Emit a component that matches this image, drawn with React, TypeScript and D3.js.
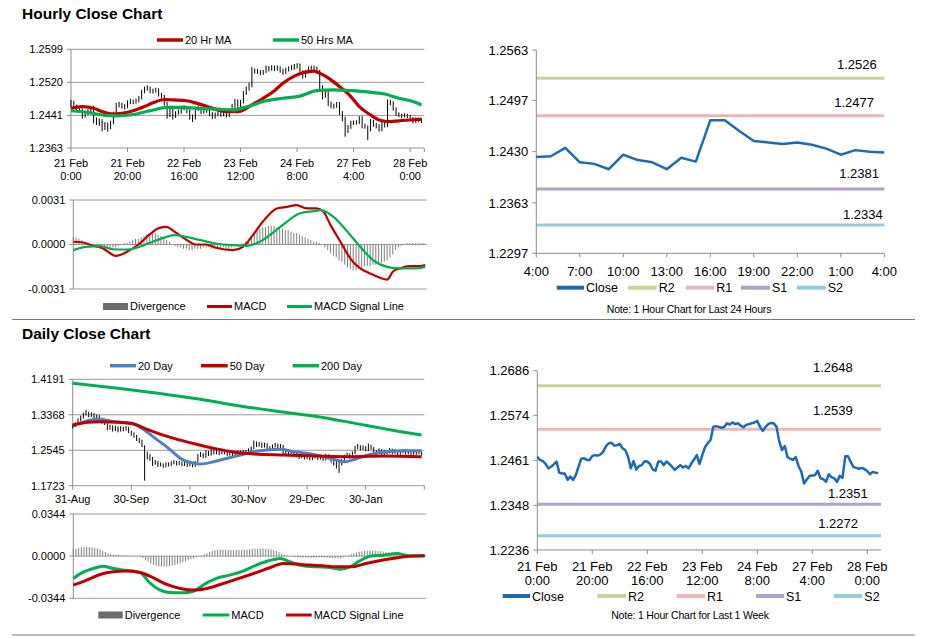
import React from "react";
import * as d3 from "d3";

const FONT = '"Liberation Sans", Arial, Helvetica, sans-serif';
const AXIS = "#8c8c8c";
const GRID = "#9a9a9a";
const RED = "#C00000";
const GREEN = "#00B050";
const BLUE_MA = "#4F81BD";
const BLUE_CLOSE = "#1F68B4";
const LEVEL_COLORS = ["#C4D79B", "#E6B8B7", "#B1A0C7", "#92CDDC"];
const BAR_GRAY = "#7f7f7f";

// ---------------- Hourly data (21 Feb 0:00 -> 28 Feb 4:00), one value per hour ----------------
const hourlyClose = [
  1.2470, 1.2462, 1.2459, 1.2452, 1.2441, 1.2445, 1.2451, 1.2458, 1.2430, 1.2428,
  1.2428, 1.2412, 1.2420, 1.2412, 1.2424, 1.2445, 1.2465, 1.2466, 1.2462, 1.2462,
  1.2472, 1.2474, 1.2473, 1.2476, 1.2483, 1.2497, 1.2504, 1.2505, 1.2498, 1.2499,
  1.2502, 1.2491, 1.2487, 1.2470, 1.2441, 1.2459, 1.2438, 1.2447, 1.2449, 1.2459,
  1.2458, 1.2452, 1.2438, 1.2435, 1.2458, 1.2458, 1.2449, 1.2458, 1.2452, 1.2445,
  1.2437, 1.2443, 1.2449, 1.2443, 1.2447, 1.2441, 1.2453, 1.2463, 1.2474, 1.2452,
  1.2474, 1.2494, 1.2504, 1.2512, 1.2545, 1.2547, 1.2545, 1.2543, 1.2545, 1.2554,
  1.2551, 1.2556, 1.2552, 1.2554, 1.2548, 1.2544, 1.2550, 1.2552, 1.2554, 1.2556,
  1.2560, 1.2545, 1.2535, 1.2545, 1.2552, 1.2555, 1.2554, 1.2545, 1.2508, 1.2487,
  1.2497, 1.2469, 1.2465, 1.2462, 1.2469, 1.2447, 1.2433, 1.2403, 1.2413, 1.2422,
  1.2423, 1.2424, 1.2435, 1.2416, 1.2414, 1.2407, 1.2426, 1.2419, 1.2416, 1.2407,
  1.2422, 1.2417, 1.2471, 1.2471, 1.2457, 1.2444, 1.2442, 1.2440, 1.2442, 1.2439,
  1.2434, 1.2426, 1.2432, 1.2430, 1.2429,
];
// high above close / low below close, in pips
const hourlyHighPips = [
  8, 14, 8, 12, 16, 6, 5, 6, 34, 8,
  6, 20, 5, 12, 4, 5, 6, 7, 9, 6,
  5, 7, 6, 5, 4, 5, 6, 8, 12, 6,
  5, 15, 8, 20, 33, 5, 26, 4, 6, 5,
  7, 10, 18, 8, 4, 6, 13, 5, 10, 11,
  12, 5, 6, 10, 5, 9, 4, 5, 6, 27,
  4, 5, 6, 7, 12, 6, 7, 6, 5, 6,
  8, 5, 8, 6, 10, 9, 5, 6, 7, 8,
  6, 20, 14, 5, 6, 5, 6, 13, 42, 26,
  5, 33, 9, 7, 4, 26, 18, 35, 5, 6,
  6, 5, 4, 23, 7, 10, 6, 11, 7, 13,
  5, 9, 8, 7, 18, 16, 6, 5, 4, 6,
  8, 11, 4, 5, 5,
];
const hourlyLowPips = [
  10, 5, 6, 5, 8, 9, 10, 12, 8, 10,
  12, 9, 14, 10, 16, 25, 24, 6, 5, 7,
  14, 6, 5, 7, 11, 18, 10, 5, 4, 6,
  7, 5, 6, 6, 8, 22, 7, 12, 6, 14,
  5, 6, 7, 10, 27, 6, 5, 13, 5, 6,
  5, 10, 10, 5, 8, 5, 16, 14, 15, 6,
  26, 24, 14, 12, 37, 6, 5, 6, 7, 12,
  5, 8, 5, 6, 5, 6, 10, 6, 5, 6,
  7, 5, 6, 14, 11, 7, 5, 5, 6, 8,
  14, 6, 7, 5, 10, 5, 6, 13, 14, 13,
  5, 5, 15, 6, 5, 25, 23, 5, 6, 5,
  19, 5, 58, 6, 5, 4, 5, 6, 6, 5,
  6, 4, 9, 5, 6,
];
const ma20Hours = [0, 4, 8, 11, 15, 18, 22, 26, 29, 33, 36, 41, 44, 48, 52, 55, 59, 61, 64, 68, 72, 75, 79, 82, 86, 88, 92, 95, 99, 102, 106, 109, 113, 116, 120, 124];
const ma20Values = [1.2458, 1.2462, 1.2458, 1.2450, 1.2444, 1.2446, 1.2452, 1.2462, 1.2471, 1.2479, 1.2478, 1.2476, 1.2471, 1.2463, 1.2454, 1.2450, 1.2450, 1.2454, 1.2466, 1.2482, 1.2500, 1.2518, 1.2535, 1.2543, 1.2547, 1.2542, 1.2526, 1.2510, 1.2486, 1.2462, 1.2442, 1.2430, 1.2426, 1.2428, 1.2430, 1.2432];
const ma50Hours = [0, 6, 12, 16, 22, 28, 34, 40, 46, 52, 57, 63, 69, 75, 81, 87, 93, 99, 105, 111, 116, 121, 124];
const ma50Values = [1.2452, 1.2448, 1.2441, 1.2440, 1.2443, 1.2452, 1.2460, 1.2460, 1.2457, 1.2456, 1.2454, 1.2463, 1.2476, 1.2482, 1.2487, 1.2500, 1.2502, 1.2500, 1.2497, 1.2492, 1.2482, 1.2474, 1.2466];
const hourlyTickIdx = [0, 20, 40, 60, 80, 100, 120];
const hourlyTickDays = ["21 Feb", "21 Feb", "22 Feb", "23 Feb", "24 Feb", "27 Feb", "28 Feb"];
const hourlyTickTimes = ["0:00", "20:00", "16:00", "12:00", "8:00", "4:00", "0:00"];
const hourlyPriceTicks = [1.2363, 1.2441, 1.2520, 1.2599];

const hMacdHours = [0, 3.5, 7, 10.5, 15, 19, 23.5, 27, 30.5, 33, 35.5, 39, 43.5, 47, 50.5, 56.5, 60, 63.5, 67, 72, 75.5, 79, 82.5, 86, 88.5, 91, 94.5, 98, 101.5, 105, 108.5, 111, 113, 115.5, 119, 122.5, 124.5];
const hMacdValues = [0.00019, 0.00014, -0.00009, -0.00028, -0.00079, -0.00051, 0.00007, 0.00070, 0.00116, 0.00123, 0.00093, 0.00046, 0, 0, -0.00023, -0.00039, -0.00016, 0.00065, 0.00158, 0.00251, 0.00262, 0.00274, 0.00251, 0.00251, 0.00228, 0.00135, 0.00019, -0.00098, -0.00167, -0.00202, -0.00232, -0.00244, -0.00190, -0.00167, -0.00151, -0.00151, -0.00144];
const hSignalHours = [0, 4.5, 9.5, 14, 19, 23.5, 28.5, 33, 35.5, 40, 45, 50.5, 56.5, 61.5, 66, 71, 75.5, 80, 85, 87.5, 92, 96.5, 101.5, 106, 111, 115.5, 120.5, 124.5];
const hSignalValues = [-0.00039, -0.00016, -0.00012, -0.00033, -0.00035, -0.00016, 0.00023, 0.00053, 0.00065, 0.00053, 0.00030, 0.00007, -0.00005, -0.00009, 0.00019, 0.00088, 0.00158, 0.00216, 0.00232, 0.00239, 0.00193, 0.00100, -0.00016, -0.00109, -0.00156, -0.00167, -0.00167, -0.00156];
const hDivergence = [
  0.0005, 0.0005, 0.0004, 0.0003, 0.0002, 0.0001, 0.0000, -0.0001, -0.0001, -0.0002,
  -0.0002, -0.0003, -0.0003, -0.0003, -0.0002, -0.0002, -0.0001, 0.0000, 0.0001, 0.0001,
  0.0002, 0.0003, 0.0004, 0.0004, 0.0005, 0.0006, 0.0007, 0.0007, 0.0008, 0.0008,
  0.0007, 0.0006, 0.0005, 0.0003, 0.0002, 0.0000, -0.0001, -0.0002, -0.0002, -0.0003,
  -0.0003, -0.0004, -0.0004, -0.0003, -0.0003, -0.0003, -0.0002, -0.0002, -0.0002, -0.0003,
  -0.0003, -0.0003, -0.0003, -0.0002, -0.0003, -0.0003, -0.0002, -0.0001, -0.0001, 0.0000,
  0.0001, 0.0002, 0.0003, 0.0006, 0.0008, 0.0010, 0.0011, 0.0012, 0.0012, 0.0013,
  0.0013, 0.0013, 0.0012, 0.0011, 0.0011, 0.0010, 0.0010, 0.0009, 0.0008, 0.0008,
  0.0007, 0.0006, 0.0005, 0.0004, 0.0003, 0.0002, 0.0002, 0.0001, 0.0000, -0.0002,
  -0.0004, -0.0006, -0.0008, -0.0009, -0.0011, -0.0012, -0.0014, -0.0016, -0.0017, -0.0018,
  -0.0018, -0.0017, -0.0016, -0.0015, -0.0015, -0.0015, -0.0014, -0.0014, -0.0013, -0.0013,
  -0.0012, -0.0011, -0.0009, -0.0007, -0.0004, -0.0002, -0.0001, 0.0000, 0.0001, 0.0001,
  0.0001, 0.0001, 0.0001, 0.0001, 0.0001,
];
const hMacdTicks = [-0.0031, 0, 0.0031];

// ---------------- Pivot levels ----------------
const levelNames = ["R2", "R1", "S1", "S2"];
const dayLevels = [1.2526, 1.2477, 1.2381, 1.2334];
const dayTicks = [1.2297, 1.2363, 1.2430, 1.2497, 1.2563];
const dayTimeLabels = ["4:00", "7:00", "10:00", "13:00", "16:00", "19:00", "22:00", "1:00", "4:00"];
const weekLevels = [1.2648, 1.2539, 1.2351, 1.2272];
const weekTicks = [1.2236, 1.2348, 1.2461, 1.2574, 1.2686];

// ---------------- Daily data (31 Aug -> 28 Feb, trading days) ----------------
const dailyClose = [
  1.3100, 1.3150, 1.3250, 1.3300, 1.3380, 1.3420, 1.3350, 1.3380, 1.3300, 1.3330,
  1.3280, 1.3200, 1.3180, 1.3050, 1.3100, 1.3020, 1.3080, 1.3000, 1.3060, 1.3030,
  1.3070, 1.2980, 1.2930, 1.2880, 1.2800, 1.2760, 1.2680, 1.2380, 1.2450, 1.2350,
  1.2240, 1.2280, 1.2200, 1.2220, 1.2180, 1.2230, 1.2210, 1.2250, 1.2280, 1.2230,
  1.2260, 1.2210, 1.2240, 1.2200, 1.2230, 1.2190, 1.2260, 1.2420, 1.2460, 1.2400,
  1.2500, 1.2450, 1.2560, 1.2480, 1.2510, 1.2470, 1.2530, 1.2490, 1.2450, 1.2480,
  1.2420, 1.2470, 1.2510, 1.2480, 1.2520, 1.2490, 1.2550, 1.2600, 1.2720, 1.2660,
  1.2700, 1.2640, 1.2680, 1.2610, 1.2570, 1.2640, 1.2680, 1.2600, 1.2650, 1.2500,
  1.2480, 1.2530, 1.2450, 1.2470, 1.2420, 1.2390, 1.2430, 1.2370, 1.2400, 1.2350,
  1.2380, 1.2420, 1.2360, 1.2400, 1.2340, 1.2430, 1.2380, 1.2310, 1.2290, 1.2250,
  1.2220, 1.2300, 1.2410, 1.2450, 1.2390, 1.2480, 1.2600, 1.2640, 1.2580, 1.2620,
  1.2560, 1.2650, 1.2600, 1.2530, 1.2490, 1.2550, 1.2460, 1.2520, 1.2500, 1.2560,
  1.2490, 1.2530, 1.2470, 1.2500, 1.2540, 1.2480, 1.2510, 1.2470, 1.2520, 1.2480,
  1.2500, 1.2460,
];
const dailyHighPips = [
  40, 45, 35, 50, 40, 60, 90, 45, 110, 40,
  80, 100, 50, 150, 40, 100, 35, 100, 40, 60,
  35, 110, 70, 80, 100, 70, 110, 280, 60, 110,
  150, 40, 100, 40, 60, 35, 50, 40, 35, 70,
  40, 70, 35, 60, 40, 60, 35, 40, 45, 80,
  40, 80, 35, 100, 40, 70, 35, 60, 70, 35,
  90, 40, 35, 60, 30, 60, 40, 35, 50, 90,
  35, 90, 40, 100, 70, 40, 35, 100, 40, 170,
  50, 30, 100, 40, 70, 60, 40, 80, 35, 70,
  40, 35, 80, 40, 80, 35, 70, 90, 50, 60,
  50, 40, 35, 40, 80, 40, 45, 50, 80, 40,
  80, 50, 70, 90, 60, 40, 110, 35, 45, 40,
  90, 35, 80, 40, 35, 80, 40, 60, 35, 60,
  40, 60,
];
const dailyLowPips = [
  50, 70, 120, 80, 100, 70, 40, 60, 40, 60,
  35, 40, 50, 40, 80, 40, 90, 40, 80, 45,
  70, 40, 50, 45, 40, 50, 60, 540, 120, 50,
  60, 70, 40, 50, 40, 80, 40, 70, 60, 40,
  60, 35, 60, 40, 60, 40, 100, 150, 70, 40,
  130, 40, 140, 35, 60, 40, 80, 40, 35, 60,
  40, 80, 70, 40, 70, 40, 90, 80, 150, 40,
  70, 40, 70, 35, 40, 100, 70, 40, 80, 40,
  50, 80, 40, 50, 40, 50, 70, 40, 60, 40,
  60, 70, 40, 70, 40, 120, 40, 50, 100, 130,
  200, 110, 140, 70, 40, 120, 150, 70, 40, 70,
  40, 120, 40, 40, 50, 90, 40, 90, 50, 90,
  40, 70, 40, 60, 70, 40, 60, 40, 80, 40,
  50, 40,
];
const sma20Days = [0, 4.5, 9.5, 16, 22, 26, 31, 36, 41, 46, 48, 53, 58, 63, 68, 73, 78, 83, 88, 93, 98, 102, 106, 111, 116, 123, 131];
const sma20Values = [1.3108, 1.3209, 1.3263, 1.3209, 1.3170, 1.3053, 1.2821, 1.2589, 1.2334, 1.2242, 1.2226, 1.2280, 1.2358, 1.2435, 1.2513, 1.2551, 1.2567, 1.2513, 1.2474, 1.2411, 1.2335, 1.2280, 1.2335, 1.2435, 1.2497, 1.2535, 1.2535];
const sma50Days = [0, 5.75, 11, 17, 23, 27, 32, 38, 46, 53, 61, 68, 79.5, 92, 104.5, 117, 131];
const sma50Values = [1.3131, 1.3193, 1.3209, 1.3193, 1.3154, 1.3053, 1.2938, 1.2821, 1.2690, 1.2589, 1.2497, 1.2458, 1.2435, 1.2411, 1.2396, 1.2411, 1.2396];
const sma200Days = [0, 17, 32, 48, 64.5, 78, 92, 106, 119.5, 131];
const sma200Values = [1.4098, 1.3982, 1.3866, 1.3726, 1.3556, 1.3440, 1.3324, 1.3169, 1.3015, 1.2899];
const dailyTickIdx = [0, 22, 44, 66, 88, 110];
const dailyTickLabels = ["31-Aug", "30-Sep", "31-Oct", "30-Nov", "29-Dec", "30-Jan"];
const dailyPriceTicks = [1.1723, 1.2545, 1.3368, 1.4191];

const dMacdDays = [0, 3.5, 7.5, 11, 15, 20, 25, 28.5, 32.5, 36, 41, 45, 48.5, 53.5, 58.5, 63.5, 68.5, 73.5, 77.5, 81, 86, 91, 96, 100, 103.5, 107, 111, 116, 121, 126, 131.5];
const dMacdValues = [-0.0182, -0.0133, -0.0101, -0.0082, -0.0101, -0.0117, -0.0133, -0.0215, -0.0277, -0.0296, -0.0299, -0.0286, -0.0237, -0.0182, -0.0155, -0.0122, -0.0073, -0.0035, -0.0019, -0.0046, -0.0079, -0.0087, -0.0092, -0.0106, -0.0087, -0.0041, 0, 0.0008, 0.0022, 0.0003, 0.0003];
const dSignalDays = [0, 5, 10, 15, 20, 25, 30, 35, 40, 45, 50, 55, 60, 65, 70, 75, 78.5, 83.5, 88.5, 93.5, 98.5, 104.5, 109.5, 114.5, 119.5, 124.5, 131.5];
const dSignalValues = [-0.0237, -0.0196, -0.0150, -0.0128, -0.0122, -0.0133, -0.0177, -0.0231, -0.0264, -0.0277, -0.0264, -0.0231, -0.0196, -0.0160, -0.0122, -0.0082, -0.0060, -0.0065, -0.0073, -0.0079, -0.0087, -0.0087, -0.0060, -0.0038, -0.0019, -0.0003, 0.0003];
const dDivergence = [
  0.0055, 0.0060, 0.0065, 0.0070, 0.0073, 0.0075, 0.0074, 0.0072, 0.0068, 0.0062,
  0.0055, 0.0045, 0.0035, 0.0025, 0.0018, 0.0014, 0.0012, 0.0010, 0.0008, 0.0006,
  0.0005, 0.0004, 0.0003, 0.0002, 0.0000, -0.0005, -0.0015, -0.0030, -0.0045, -0.0060,
  -0.0070, -0.0078, -0.0083, -0.0086, -0.0087, -0.0085, -0.0082, -0.0078, -0.0072, -0.0065,
  -0.0058, -0.0050, -0.0042, -0.0034, -0.0026, -0.0018, -0.0010, -0.0003, 0.0005, 0.0015,
  0.0025, 0.0035, 0.0042, 0.0048, 0.0050, 0.0052, 0.0052, 0.0052, 0.0050, 0.0050,
  0.0049, 0.0050, 0.0050, 0.0051, 0.0052, 0.0054, 0.0056, 0.0058, 0.0060, 0.0061,
  0.0062, 0.0062, 0.0060, 0.0058, 0.0055, 0.0050, 0.0042, 0.0032, 0.0022, 0.0012,
  0.0005, -0.0002, -0.0006, -0.0009, -0.0011, -0.0012, -0.0013, -0.0013, -0.0014, -0.0014,
  -0.0013, -0.0013, -0.0012, -0.0012, -0.0013, -0.0014, -0.0015, -0.0016, -0.0017, -0.0018,
  -0.0017, -0.0012, -0.0004, 0.0005, 0.0014, 0.0022, 0.0030, 0.0036, 0.0040, 0.0043,
  0.0045, 0.0046, 0.0045, 0.0044, 0.0042, 0.0040, 0.0037, 0.0034, 0.0030, 0.0026,
  0.0022, 0.0019, 0.0016, 0.0014, 0.0012, 0.0011, 0.0010, 0.0010, 0.0009, 0.0009,
  0.0008, 0.0008,
];
const dMacdTicks = [-0.0344, 0, 0.0344];

// label nudges (layout only)
const dayLabelNudge = [[-7.6, -9], [-10.3, -8.7], [-5.3, -11.4], [-1.6, -6.3]];
const weekLabelNudge = [[-28.3, -14], [-28.3, -14], [-13.3, -6.2], [-23, -7.7]];

type Scale = d3.ScaleLinear<number, number>;

function pathOf(xs: number[], ys: number[], sx: Scale, sy: Scale, curve: any = d3.curveLinear) {
  return (
    d3
      .line<number>()
      .x((_, i) => sx(xs[i]))
      .y((d) => sy(d))
      .curve(curve)(ys) || ""
  );
}

function YAxis({ scale, ticks, x, xEnd, grid, fontSize }: { scale: Scale; ticks: number[]; x: number; xEnd: number; grid: boolean; fontSize: number }) {
  const [r0, r1] = scale.range();
  return (
    <g>
      {grid &&
        ticks.map((t, i) => (
          <line key={"g" + i} x1={x} x2={xEnd} y1={scale(t)} y2={scale(t)} stroke={GRID} strokeWidth={1} />
        ))}
      <line x1={x} x2={x} y1={r0} y2={r1} stroke={AXIS} strokeWidth={1} />
      {ticks.map((t, i) => (
        <g key={"t" + i}>
          <line x1={x - 4} x2={x} y1={scale(t)} y2={scale(t)} stroke={AXIS} />
          <text x={x - 8} y={scale(t) + fontSize * 0.36} textAnchor="end" fontSize={fontSize} fill="#000">
            {t.toFixed(4)}
          </text>
        </g>
      ))}
    </g>
  );
}

function LegendLine({ x1, x2, y, color, width, label, fontSize }: { x1: number; x2: number; y: number; color: string; width: number; label: string; fontSize: number }) {
  return (
    <g>
      <line x1={x1} x2={x2} y1={y} y2={y} stroke={color} strokeWidth={width} />
      <text x={x2 + 2} y={y + fontSize * 0.36} fontSize={fontSize} fill="#000">
        {label}
      </text>
    </g>
  );
}

function LegendRect({ x1, x2, y, label, fontSize }: { x1: number; x2: number; y: number; label: string; fontSize: number }) {
  return (
    <g>
      <rect x={x1} y={y - 3.5} width={x2 - x1} height={7} fill="#6b6b6b" />
      <text x={x2 + 2} y={y + fontSize * 0.36} fontSize={fontSize} fill="#000">
        {label}
      </text>
    </g>
  );
}

export default function App() {
  // Panel 1: hourly price
  const x1 = d3.scaleLinear().domain([0, 125]).range([71, 424.3]);
  const y1 = d3.scaleLinear().domain([1.2363, 1.2599]).range([148, 49.3]);
  // Panel 2: hourly MACD
  const x2 = d3.scaleLinear().domain([0, 125]).range([73.3, 426.7]);
  const y2 = d3.scaleLinear().domain([-0.0031, 0.0031]).range([289, 200]);
  // Panel 3: last 24 hours
  const x3 = d3.scaleLinear().domain([0, 24]).range([536.3, 884.3]);
  const y3 = d3.scaleLinear().domain([1.2297, 1.2563]).range([253.3, 50]);
  // Panel 4: daily price
  const x4 = d3.scaleLinear().domain([0, 132]).range([72.7, 424.3]);
  const y4 = d3.scaleLinear().domain([1.1723, 1.4191]).range([485.7, 379.3]);
  // Panel 5: daily MACD
  const x5 = d3.scaleLinear().domain([0, 132]).range([73.3, 426]);
  const y5 = d3.scaleLinear().domain([-0.0344, 0.0344]).range([598.3, 514]);
  // Panel 6: last week
  const x6 = d3.scaleLinear().domain([0, 125]).range([537.3, 881]);
  const y6 = d3.scaleLinear().domain([1.2236, 1.2686]).range([550, 370.7]);

  const last24 = hourlyClose.slice(hourlyClose.length - 25);
  const last24Idx = last24.map((_, i) => i);
  const hourIdx = hourlyClose.map((_, i) => i);
  const smooth = d3.curveMonotoneX;

  const rightXAxis = (sx: Scale, sy: Scale, ticks: number[]) => {
    const yb = sy.range()[0];
    const [a, b] = sx.range();
    return (
      <g>
        <line x1={a} x2={b} y1={yb} y2={yb} stroke={AXIS} />
        {ticks.map((t, i) => (
          <line key={i} x1={sx(t)} x2={sx(t)} y1={yb} y2={yb + 4} stroke={AXIS} />
        ))}
      </g>
    );
  };

  return (
    <svg
      width={928}
      height={638}
      style={{ position: "absolute", left: 0, top: 0, background: "#fff" }}
      fontFamily={FONT}
    >
      <rect x={0} y={0} width={928} height={638} fill="#fff" />

      {/* ================= Hourly Close Chart ================= */}
      <text x={22} y={18.5} fontSize={15.5} fontWeight="bold" fill="#000">
        Hourly Close Chart
      </text>
      <LegendLine x1={157} x2={183} y={40} color={RED} width={3.5} label="20 Hr MA" fontSize={11} />
      <LegendLine x1={273} x2={299} y={40} color={GREEN} width={3.5} label="50 Hrs MA" fontSize={11} />

      <YAxis scale={y1} ticks={hourlyPriceTicks} x={71} xEnd={424.3} grid fontSize={11} />
      {[...hourlyTickIdx, 125].map((t, i) => (
        <line key={"hx" + i} x1={x1(t)} x2={x1(t)} y1={148} y2={152} stroke={AXIS} />
      ))}
      {hourlyTickIdx.map((t, i) => (
        <g key={"hl" + i}>
          <text x={x1(t)} y={166.5} textAnchor="middle" fontSize={11}>
            {hourlyTickDays[i]}
          </text>
          <text x={x1(t)} y={179.5} textAnchor="middle" fontSize={11}>
            {hourlyTickTimes[i]}
          </text>
        </g>
      ))}
      {hourlyClose.map((c, i) => (
        <line
          key={"hb" + i}
          x1={x1(i)}
          x2={x1(i)}
          y1={y1(c + hourlyHighPips[i] / 10000)}
          y2={y1(c - hourlyLowPips[i] / 10000)}
          stroke="#000"
          strokeWidth={1}
        />
      ))}
      <path d={pathOf(ma20Hours, ma20Values, x1, y1, smooth)} fill="none" stroke={RED} strokeWidth={3.2} />
      <path d={pathOf(ma50Hours, ma50Values, x1, y1, smooth)} fill="none" stroke={GREEN} strokeWidth={3.2} />

      {/* hourly MACD */}
      <YAxis scale={y2} ticks={hMacdTicks} x={73.3} xEnd={426.7} grid fontSize={11} />
      {hDivergence.map((v, i) => (
        <line key={"hd" + i} x1={x2(i)} x2={x2(i)} y1={y2(0)} y2={y2(v)} stroke={BAR_GRAY} strokeWidth={1} />
      ))}
      <path d={pathOf(hMacdHours, hMacdValues, x2, y2, smooth)} fill="none" stroke={RED} strokeWidth={2.2} />
      <path d={pathOf(hSignalHours, hSignalValues, x2, y2, smooth)} fill="none" stroke={GREEN} strokeWidth={2.2} />
      <LegendRect x1={103} x2={128} y={306.5} label="Divergence" fontSize={11} />
      <LegendLine x1={207} x2={232} y={306.5} color={RED} width={3} label="MACD" fontSize={11} />
      <LegendLine x1={287} x2={312} y={306.5} color={GREEN} width={3} label="MACD Signal Line" fontSize={11} />

      {/* ================= Last 24 hours ================= */}
      {dayLevels.map((lv, i) => (
        <g key={"dl" + i}>
          <line x1={536.3} x2={884.3} y1={y3(lv)} y2={y3(lv)} stroke={LEVEL_COLORS[i]} strokeWidth={3} />
          <text x={884.3 + dayLabelNudge[i][0]} y={y3(lv) + dayLabelNudge[i][1]} textAnchor="end" fontSize={13}>
            {lv.toFixed(4)}
          </text>
        </g>
      ))}
      <YAxis scale={y3} ticks={dayTicks} x={536.3} xEnd={884.3} grid={false} fontSize={13} />
      {rightXAxis(x3, y3, [0, 3, 6, 9, 12, 15, 18, 21, 24])}
      {dayTimeLabels.map((l, i) => (
        <text key={"dt" + i} x={x3(i * 3)} y={275.5} textAnchor="middle" fontSize={13}>
          {l}
        </text>
      ))}
      <path d={pathOf(last24Idx, last24, x3, y3)} fill="none" stroke={BLUE_CLOSE} strokeWidth={2.5} strokeLinejoin="round" />
      <LegendLine x1={556.7} x2={584} y={287.7} color={BLUE_CLOSE} width={4} label="Close" fontSize={12.5} />
      {levelNames.map((n, i) => (
        <LegendLine
          key={"dn" + i}
          x1={[627.7, 685.7, 741, 797][i]}
          x2={[656.7, 714.3, 770, 825.7][i]}
          y={287.7}
          color={LEVEL_COLORS[i]}
          width={4}
          label={n}
          fontSize={12.5}
        />
      ))}
      <text x={689} y={313} textAnchor="middle" fontSize={10.5} letterSpacing={-0.2}>
        Note: 1 Hour Chart for Last 24 Hours
      </text>

      {/* separator */}
      <line x1={12} x2={915} y1={319.5} y2={319.5} stroke="#7a7a7a" strokeWidth={1.2} />

      {/* ================= Daily Close Chart ================= */}
      <text x={22} y={338.5} fontSize={15.5} fontWeight="bold" fill="#000">
        Daily Close Chart
      </text>
      <LegendLine x1={110} x2={136} y={365.7} color={BLUE_MA} width={3.5} label="20 Day" fontSize={11} />
      <LegendLine x1={201} x2={227.7} y={365.7} color={RED} width={3.5} label="50 Day" fontSize={11} />
      <LegendLine x1={292.7} x2={319} y={365.7} color={GREEN} width={3.5} label="200 Day" fontSize={11} />

      <YAxis scale={y4} ticks={dailyPriceTicks} x={72.7} xEnd={424.3} grid fontSize={11} />
      {[...dailyTickIdx, 132].map((t, i) => (
        <line key={"dx" + i} x1={x4(t)} x2={x4(t)} y1={485.7} y2={489.7} stroke={AXIS} />
      ))}
      {dailyTickIdx.map((t, i) => (
        <text key={"dlb" + i} x={x4(t)} y={502.5} textAnchor="middle" fontSize={11}>
          {dailyTickLabels[i]}
        </text>
      ))}
      {dailyClose.map((c, i) => (
        <line
          key={"db" + i}
          x1={x4(i)}
          x2={x4(i)}
          y1={y4(c + dailyHighPips[i] / 10000)}
          y2={y4(c - dailyLowPips[i] / 10000)}
          stroke="#000"
          strokeWidth={1}
        />
      ))}
      <path d={pathOf(sma20Days, sma20Values, x4, y4, smooth)} fill="none" stroke={BLUE_MA} strokeWidth={3} />
      <path d={pathOf(sma50Days, sma50Values, x4, y4, smooth)} fill="none" stroke={RED} strokeWidth={3} />
      <path d={pathOf(sma200Days, sma200Values, x4, y4, smooth)} fill="none" stroke={GREEN} strokeWidth={3} />

      {/* daily MACD */}
      <YAxis scale={y5} ticks={dMacdTicks} x={73.3} xEnd={426} grid fontSize={11} />
      {dDivergence.map((v, i) => (
        <line key={"dd" + i} x1={x5(i)} x2={x5(i)} y1={y5(0)} y2={y5(v)} stroke={BAR_GRAY} strokeWidth={1} />
      ))}
      <path d={pathOf(dMacdDays, dMacdValues, x5, y5, smooth)} fill="none" stroke={GREEN} strokeWidth={3} />
      <path d={pathOf(dSignalDays, dSignalValues, x5, y5, smooth)} fill="none" stroke={RED} strokeWidth={3} />
      <LegendRect x1={98.3} x2={122.7} y={615} label="Divergence" fontSize={11} />
      <LegendLine x1={202.7} x2={229.3} y={615} color={GREEN} width={3} label="MACD" fontSize={11} />
      <LegendLine x1={286} x2={311.7} y={615} color={RED} width={3} label="MACD Signal Line" fontSize={11} />

      {/* ================= Last 1 week ================= */}
      {weekLevels.map((lv, i) => (
        <g key={"wl" + i}>
          <line x1={537.3} x2={881} y1={y6(lv)} y2={y6(lv)} stroke={LEVEL_COLORS[i]} strokeWidth={3} />
          <text x={881 + weekLabelNudge[i][0]} y={y6(lv) + weekLabelNudge[i][1]} textAnchor="end" fontSize={13}>
            {lv.toFixed(4)}
          </text>
        </g>
      ))}
      <YAxis scale={y6} ticks={weekTicks} x={537.3} xEnd={881} grid={false} fontSize={13} />
      {rightXAxis(x6, y6, hourlyTickIdx)}
      {hourlyTickIdx.map((t, i) => (
        <g key={"wt" + i}>
          <text x={x6(t)} y={570.5} textAnchor="middle" fontSize={13}>
            {hourlyTickDays[i]}
          </text>
          <text x={x6(t)} y={585} textAnchor="middle" fontSize={13}>
            {hourlyTickTimes[i]}
          </text>
        </g>
      ))}
      <path d={pathOf(hourIdx, hourlyClose, x6, y6)} fill="none" stroke={BLUE_CLOSE} strokeWidth={2.5} strokeLinejoin="round" />
      <LegendLine x1={502.7} x2={530} y={596} color={BLUE_CLOSE} width={4} label="Close" fontSize={12.5} />
      {levelNames.map((n, i) => (
        <LegendLine
          key={"wn" + i}
          x1={[597.3, 676.7, 756, 834][i]}
          x2={[626, 705, 784, 862.3][i]}
          y={596}
          color={LEVEL_COLORS[i]}
          width={4}
          label={n}
          fontSize={12.5}
        />
      ))}
      <text x={690} y={619} textAnchor="middle" fontSize={10.5} letterSpacing={-0.2}>
        Note: 1 Hour Chart for Last 1 Week
      </text>

      {/* bottom separator */}
      <line x1={12} x2={915} y1={635} y2={635} stroke="#7a7a7a" strokeWidth={1.2} />
    </svg>
  );
}
